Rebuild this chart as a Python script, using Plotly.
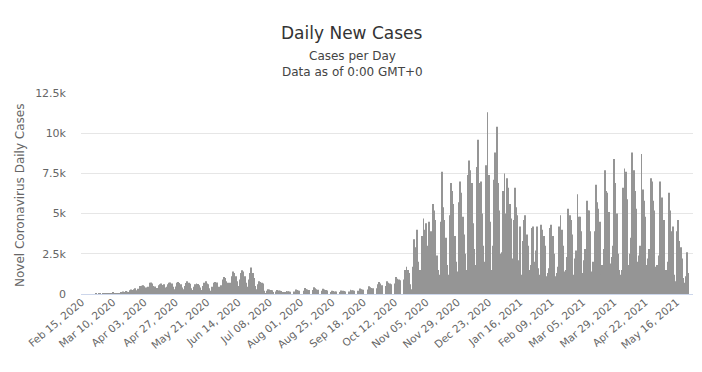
import pandas as pd
import plotly.graph_objects as go

# Daily new cases, one row per week (Sat..Fri), starting Sat Feb 15, 2020
wave1_2020 = [
    [0, 0, 0, 0, 0, 0, 0],
    [0, 0, 0, 0, 1, 0, 5],
    [2, 0, 1, 2, 1, 9, 7],
    [20, 10, 60, 100, 60, 50, 40],
    [30, 60, 80, 110, 150, 130, 180],
    [140, 100, 240, 280, 250, 300, 360],
    [230, 330, 300, 500, 520, 540, 480],
    [400, 390, 450, 700, 720, 650, 500],
    [460, 330, 380, 550, 600, 650, 560],
    [600, 400, 450, 600, 700, 720, 650],
    [450, 300, 460, 700, 750, 680, 600],
    [400, 300, 500, 680, 800, 700, 640],
    [350, 250, 450, 600, 650, 620, 550],
    [400, 250, 500, 700, 800, 650, 600],
    [350, 200, 450, 700, 750, 650, 720],
    [450, 300, 550, 900, 1050, 1000, 800],
    [700, 500, 700, 1100, 1400, 1300, 1100],
    [800, 500, 900, 1300, 1480, 1400, 1100],
    [700, 450, 900, 1300, 1650, 1300, 1000],
    [500, 300, 600, 800, 750, 700, 650],
]
summer_2020 = [
    [200, 50, 200, 300, 280, 250, 230],
    [100, 0, 150, 250, 220, 200, 180],
    [80, 0, 120, 180, 170, 150, 140],
    [0, 0, 150, 280, 250, 220, 200],
    [0, 0, 200, 380, 300, 280, 250],
    [0, 0, 250, 420, 350, 300, 270],
    [0, 0, 200, 320, 280, 250, 220],
    [0, 0, 120, 200, 180, 160, 150],
    [0, 0, 130, 220, 200, 180, 160],
    [0, 0, 150, 270, 240, 220, 200],
    [0, 0, 200, 340, 300, 280, 260],
    [0, 0, 280, 480, 420, 380, 350],
    [0, 0, 350, 600, 750, 650, 550],
    [0, 0, 500, 800, 700, 650, 600],
]
autumn_2020 = [
    [0, 0, 650, 1050, 950, 900, 850],
    [0, 0, 900, 1500, 1700, 1500, 1300],
    [600, 300, 1700, 3400, 2900, 4000, 2000],
    [1500, 900, 3600, 4700, 4000, 4400, 3000],
    [4500, 1500, 3900, 5600, 5200, 4600, 2400],
    [1500, 1200, 4500, 7600, 5400, 4600, 3500],
    [1800, 1200, 4900, 6900, 6400, 5600, 3600],
    [2000, 1400, 5700, 7000, 6300, 4800, 3700],
    [2500, 1500, 7400, 8300, 7700, 6900, 4400],
    [2800, 1800, 7900, 9600, 6900, 7000, 5000],
    [3000, 2000, 8000, 11300, 7400, 4500, 1500],
    [3000, 7100, 8800, 10400, 6900, 5200, 2500],
]
winter_2021 = [
    [2600, 6400, 7500, 5000, 7200, 6600, 5600],
    [4700, 2200, 4600, 6600, 5400, 4900, 2100],
    [4200, 1200, 3300, 4600, 4900, 3700, 3000],
    [1500, 1800, 4100, 4200, 2000, 2700, 4200],
    [1600, 1200, 4300, 4000, 3600, 3000, 1100],
    [1300, 1600, 4100, 4300, 3600, 2500, 1100],
    [1300, 1700, 4200, 4900, 4000, 3000, 1400],
    [1500, 2300, 5300, 4900, 4600, 3700, 1200],
    [2200, 2700, 6200, 4800, 4800, 3900, 1300],
    [2100, 2800, 5800, 5200, 5200, 3900, 1400],
    [2000, 3900, 6800, 5700, 5300, 4500, 1200],
    [1800, 2800, 7700, 6400, 6300, 5100, 1900],
]
spring_2021 = [
    [2300, 3000, 8400, 6900, 5000, 2500, 1500],
    [1200, 1500, 6600, 7800, 7600, 5900, 1800],
    [2500, 3500, 8800, 7700, 6400, 5300, 2000],
    [2400, 3000, 8700, 6500, 5800, 4800, 1800],
    [2200, 2800, 7200, 7000, 5800, 5200, 1700],
    [1800, 2400, 7000, 5600, 6000, 4600, 1500],
    [1500, 2000, 6300, 5200, 3900, 4200, 1200],
    [800, 3900, 4600, 3300, 2900, 2200, 1000],
    [700, 1100, 2600, 1300, 0, 0, 0],
]

tick_labels = [
    "Feb 15, 2020", "Mar 10, 2020", "Apr 03, 2020", "Apr 27, 2020", "May 21, 2020",
    "Jun 14, 2020", "Jul 08, 2020", "Aug 01, 2020", "Aug 25, 2020", "Sep 18, 2020",
    "Oct 12, 2020", "Nov 05, 2020", "Nov 29, 2020", "Dec 23, 2020", "Jan 16, 2021",
    "Feb 09, 2021", "Mar 05, 2021", "Mar 29, 2021", "Apr 22, 2021", "May 16, 2021",
]
y_tick_vals = [0, 2500, 5000, 7500, 10000, 12500]
y_tick_text = ["0", "2.5k", "5k", "7.5k", "10k", "12.5k"]

values = [v for block in (wave1_2020, summer_2020, autumn_2020, winter_2021, spring_2021)
          for row in block for v in row]
dates = pd.date_range("2020-02-15", periods=len(values), freq="D")
categories = [d.strftime("%b %d, %Y") for d in dates]

FONT = "DejaVu Sans, Arial, sans-serif"
OFF = 8  # default page body margin
L, R, T, B = 81, 693, 93, 294
PW, PH = R - L, B - T
W, H = 702 - OFF, 372 - OFF

fig = go.Figure(go.Bar(x=categories, y=values, marker=dict(color="#959595", line=dict(width=0))))

fig.update_layout(
    width=W, height=H,
    margin=dict(l=L - OFF, r=702 - R, t=T - OFF, b=372 - B, autoexpand=False),
    paper_bgcolor="white", plot_bgcolor="white",
    bargap=0.35, showlegend=False,
    font=dict(family=FONT, color="#666666"),
    annotations=[
        dict(text="Daily New Cases", xref="paper", yref="paper", x=(352 - L) / PW, y=(B - 33) / PH,
             xanchor="center", yanchor="middle", showarrow=False, font=dict(size=17, color="#333333", family=FONT)),
        dict(text="Cases per Day", xref="paper", yref="paper", x=(352 - L) / PW, y=(B - 56) / PH,
             xanchor="center", yanchor="middle", showarrow=False, font=dict(size=12, color="#444444", family=FONT)),
        dict(text="Data as of 0:00 GMT+0", xref="paper", yref="paper", x=(352 - L) / PW, y=(B - 72) / PH,
             xanchor="center", yanchor="middle", showarrow=False, font=dict(size=12, color="#444444", family=FONT)),
        dict(text="Novel Coronavirus Daily Cases", xref="paper", yref="paper", x=(20 - L) / PW, y=(B - 196) / PH,
             xanchor="center", yanchor="middle", textangle=-90, showarrow=False,
             font=dict(size=12, color="#666666", family=FONT)),
    ],
)
fig.update_xaxes(
    type="category", range=[-0.5, len(values) - 0.5], automargin=False,
    tickmode="array", tickvals=[categories[i] for i in range(0, 457, 24)], ticktext=tick_labels,
    tickangle=-40, tickfont=dict(size=10.5, color="#666666"), ticklabelstandoff=-3,
    showgrid=False, showline=True, linecolor="#ccd6eb", linewidth=1, ticks="",
)
fig.update_yaxes(
    range=[0, 12500], tickmode="array", tickvals=y_tick_vals, ticktext=y_tick_text, automargin=False,
    tickfont=dict(size=11, color="#666666"), showgrid=True, gridcolor="#e6e6e6", gridwidth=1,
    zeroline=False, showline=False, ticks="", ticklabelstandoff=14,
)

fig.write_html("out.html")
